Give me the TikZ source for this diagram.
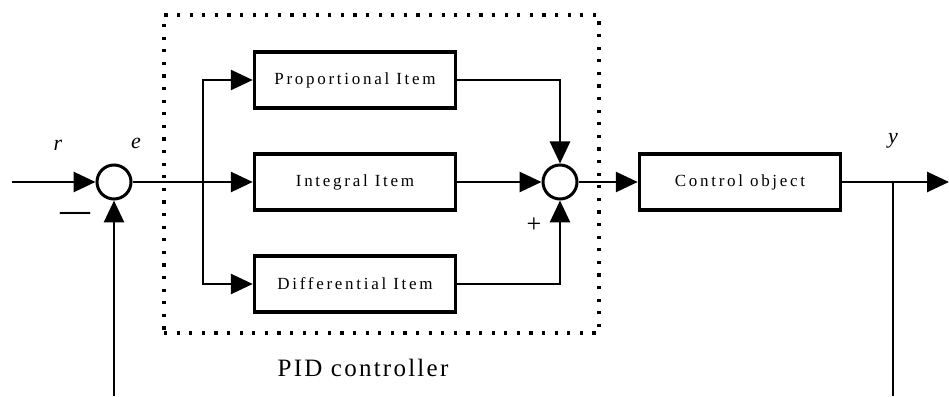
\documentclass[tikz,border=0pt]{standalone}
\usepackage{fontspec}
\setmainfont{Liberation Serif}
\newfontfamily\spacedfont[LetterSpace=16]{Liberation Serif}
\newfontfamily\widefont[LetterSpace=9]{Liberation Serif}
\usetikzlibrary{arrows.meta, positioning, fit}
\tikzset{
    base/.style={text centered, font=\spacedfont\fontsize{17}{19}\selectfont},
    block/.style={base, rectangle, minimum width=201pt, minimum height=56pt, draw=black, line width=3.5pt, inner sep=0pt},
    sumnode/.style={circle, draw=black, line width=3pt, minimum size=34pt, inner sep=0pt},
    arrow/.style={line width=2.8pt, -{Triangle[length=22pt,width=20pt]}, color=black},
    wire/.style={line width=2.8pt, color=black},
    module/.style={rectangle, draw=black, line width=3.2pt, dash pattern=on 3.2pt off 9.4pt, inner sep=0pt},
    signal/.style={font=\itshape\fontsize{22}{22}\selectfont},
    sign/.style={font=\fontsize{26}{26}\selectfont}
}

\begin{document}
\begin{tikzpicture}[x=1pt, y=1pt, node distance=102pt]
        \useasboundingbox (0,0) rectangle (949,396);

        % Loop input
        \coordinate (in) at (12,214);
        \node (sum1) [sumnode] at (114,214) {};
        \coordinate (split) at (203,214);
        \coordinate (fb1) at (114,0);

        % PID controller
        \node (integral) [block] at (355,214) {Integral Item};
        \node (prop) [block, above of=integral] {Proportional Item};
        \node (diff) [block, below of=integral] {Differential Item};
        \node (sum2) [sumnode] at (560,214) {};

        \coordinate (pidnw) at (164,381);
        \coordinate (pidse) at (599,63);
        \node (pid) [module, fit=(pidnw) (pidse)] {};
        \node (pidlabel) [font=\widefont\fontsize{25}{27}\selectfont] at (363,28) {PID controller};

        % Plant and output
        \node (plant) [block] at (740,214) {Control object};
        \coordinate (tap) at (893,214);
        \coordinate (out) at (949,214);
        \coordinate (fb2) at (893,0);

        \draw [arrow] (in) -- (sum1);
        \draw [arrow] (fb1) -- (sum1);
        \draw [arrow] (sum1) -- (integral);
        \draw [arrow] (split) |- (prop.west);
        \draw [arrow] (split) |- (diff.west);
        \draw [arrow] (prop.east) -| (sum2.north);
        \draw [arrow] (integral) -- (sum2);
        \draw [arrow] (diff.east) -| (sum2.south);
        \draw [arrow] (sum2) -- (plant);
        \draw [arrow] (plant) -- (out);
        \draw [wire] (tap) -- (fb2);

        % Signal labels
        \node (rlabel) [signal] at (58,251) {r};
        \node (elabel) [signal] at (136,253) {e};
        \node (ylabel) [signal] at (893,255) {y};
        \node (minus) [font=\bfseries\fontsize{30}{30}\selectfont] at (75,180) {—};
        \node (plus) [sign] at (534,171) {+};
    \end{tikzpicture}
\end{document}
